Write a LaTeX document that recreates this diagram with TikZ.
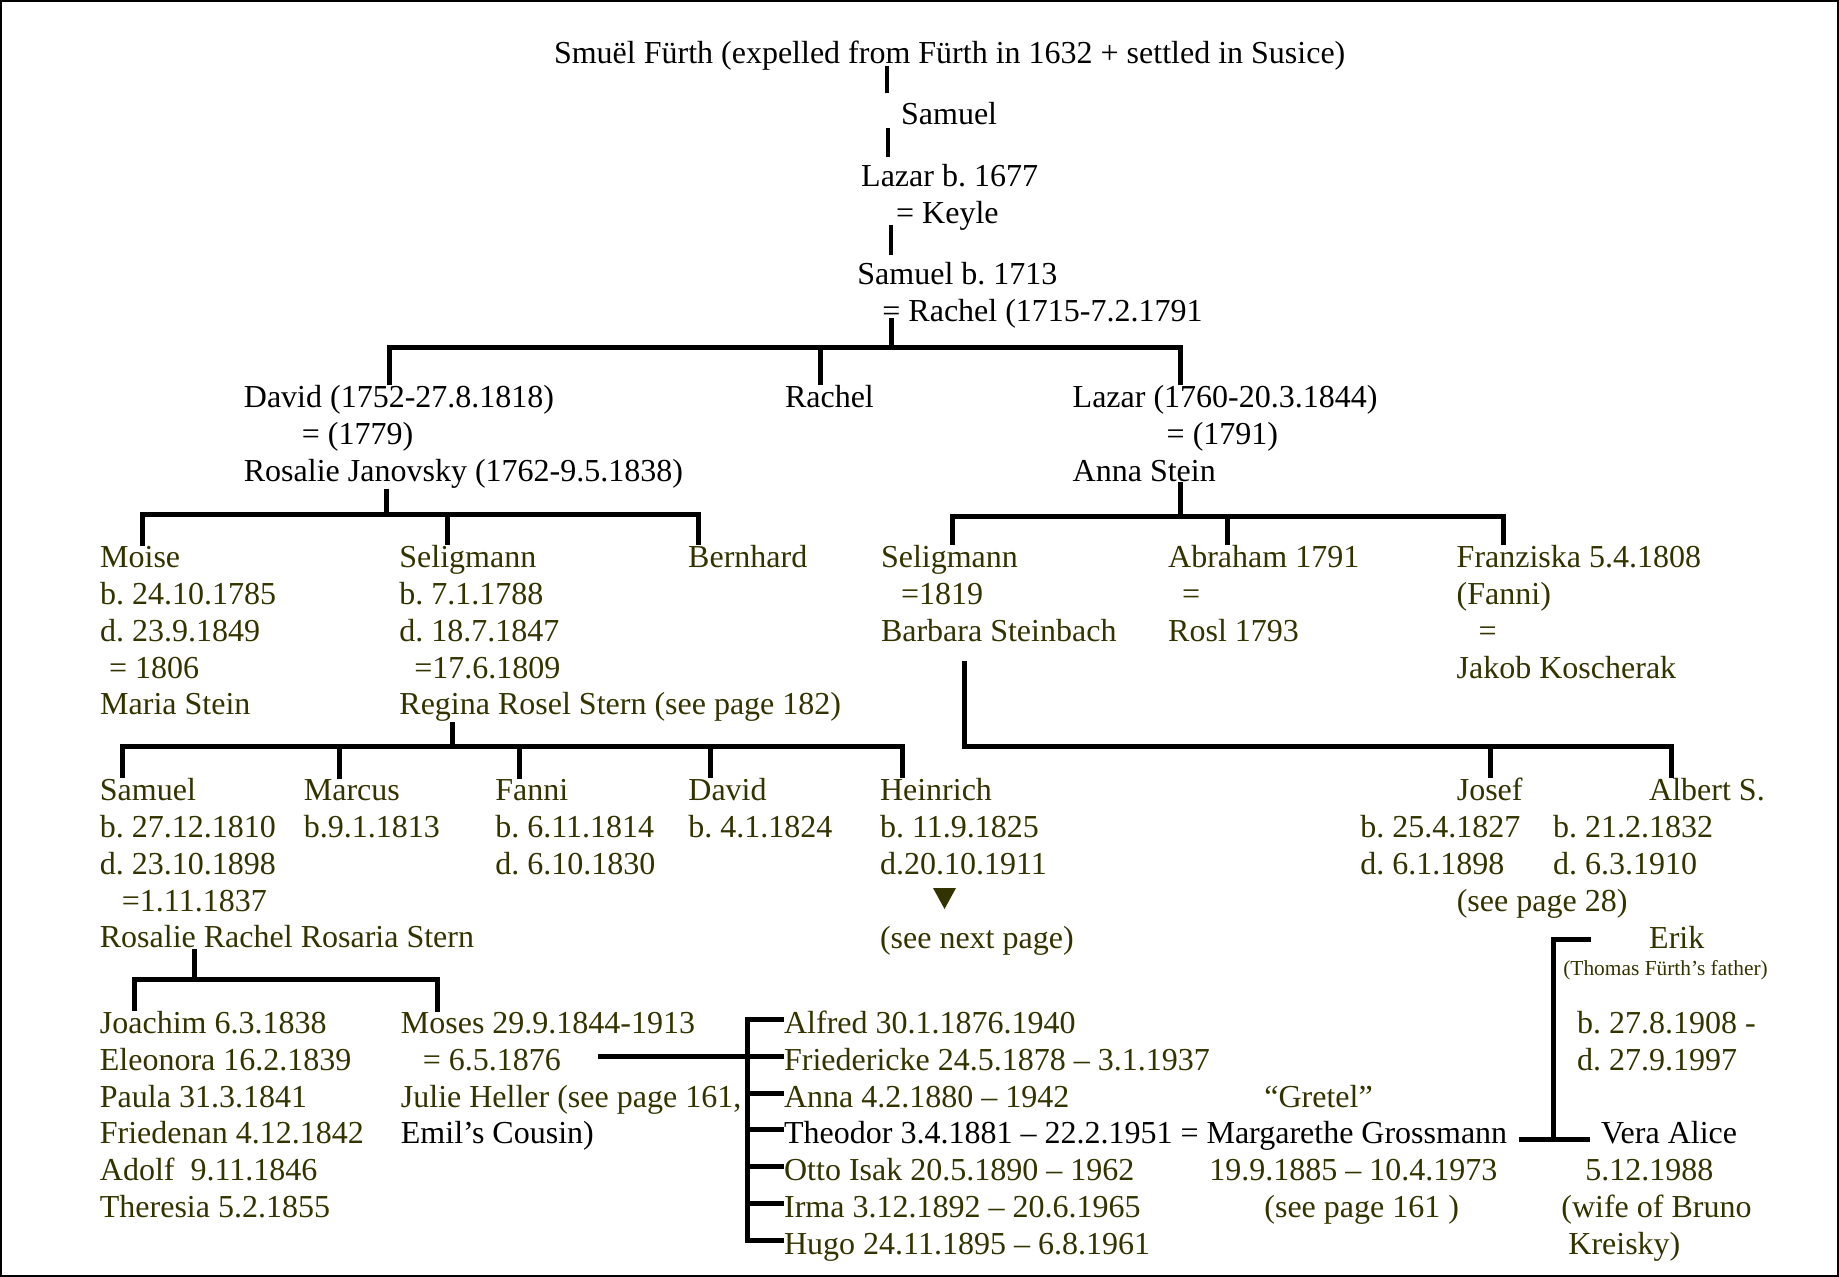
\documentclass[tikz,border=0pt]{standalone}
\usepackage{fontspec}
\setmainfont{Liberation Serif}
\definecolor{olivetext}{RGB}{51,51,0}
\tikzset{every node/.style={inner sep=0pt, anchor=base west, align=left, font=\fontsize{16pt}{18.4pt}\selectfont}}
\tikzset{
  elder/.style={text=black},
  young/.style={text=olivetext},
  kid/.style={young, text height=14pt, text depth=0pt},
  tree/.style={line width=2.5pt},
  stem/.style={line width=2pt},
}

\begin{document}
\frenchspacing
\begin{tikzpicture}[x=0.5pt,y=-0.5pt]
			\useasboundingbox (0,0) rectangle (1839,1277);
			\draw[line width=1pt] (1,1.5) rectangle (1837.5,1275.5);
			
			% Oldest generations (multi-line nodes sit on their last line)
			\node[elder] (smuel) at (553.6,64) {Smuël Fürth (expelled from Fürth in 1632 + settled in Susice)};
			\node[elder] (samuel1) at (900.7,125) {Samuel};
			\node[elder] (lazar1) at (860.8,223.8) {Lazar b. 1677\\\hspace*{17.5pt}= Keyle};
			\node[elder] (samuel2) at (857,321.8) {Samuel b. 1713\\\hspace*{12.5pt}= Rachel (1715-7.2.1791};
			
			\draw[stem] ([shift={(-14,-9)}]samuel1.north west) -- ++(0,-27);
			\draw[stem] ([shift={(27,-7)}]lazar1.north west) -- ++(0,-29);
			\draw[stem] ([shift={(34,-7)}]samuel2.north west) -- ++(0,-30);
			\draw[tree] ([shift={(34,56)}]samuel2.north west) -- ++(0,29);
			
			% Children of Samuel and Rachel
			\node[elder] (david) at (243.5,481.6) {David (1752-27.8.1818)\\\hspace*{29pt}= (1779)\\Rosalie Janovsky (1762-9.5.1838)};
			\node[elder] (rachel) at (784.6,408) {Rachel};
			\node[elder] (lazar2) at (1072.3,481.6) {Lazar (1760-20.3.1844)\\\hspace*{47pt}= (1791)\\Anna Stein};
			
			\draw[tree] ([xshift=72.75pt]david.north west) -- ++(0,-38) -| ([xshift=53.85pt]lazar2.north west);
			\draw[tree] ([xshift=17.7pt]rachel.north west) -- ++(0,-38);
			
			% Children of David
			\node[young] (moise) at (99.8,714.9) {Moise\\b. 24.10.1785\\d. 23.9.1849\\\hspace*{4.5pt}= 1806\\Maria Stein};
			\node[young] (selig1) at (399,714.9) {Seligmann\\b. 7.1.1788\\d. 18.7.1847\\\hspace*{7.5pt}=17.6.1809\\Regina Rosel Stern (see page 182)};
			\node[young] (bernhard) at (687.8,567.7) {Bernhard};
			
			\draw[tree] ([xshift=71.25pt]david.south west) -- ++(0,25.4);
			\draw[tree] ([xshift=21.1pt]moise.north west) -- ++(0,-32) -| ([xshift=5.1pt]bernhard.north west);
			\draw[tree] ([xshift=24pt]selig1.north west) -- ++(0,-32);
			
			% Children of Lazar
			\node[young] (selig2) at (880.6,641.3) {Seligmann\\\hspace*{10pt}=1819\\Barbara Steinbach};
			\node[young] (abraham) at (1167.8,641.3) {Abraham 1791\\\hspace*{7pt}=\\Rosl 1793};
			\node[young] (franziska) at (1456.3,678.1) {Franziska 5.4.1808\\(Fanni)\\\hspace*{11pt}=\\Jakob Koscherak};
			
			\draw[tree] ([xshift=53.85pt]lazar2.south west) -- ++(0,35.4);
			\draw[tree] ([xshift=35.7pt]selig2.north west) -- ++(0,-29) -| ([xshift=23.35pt]franziska.north west);
			\draw[tree] ([xshift=29.6pt]abraham.north west) -- ++(0,-29);
			
			% Children of Seligmann and Regina
			\node[young] (samuel3) at (99.5,947.9) {Samuel\\b. 27.12.1810\\d. 23.10.1898\\\hspace*{11pt}=1.11.1837\\Rosalie Rachel Rosaria Stern};
			\node[young] (marcus) at (303.5,837.5) {Marcus\\b.9.1.1813};
			\node[young] (fanni) at (495,874.3) {Fanni\\b. 6.11.1814\\d. 6.10.1830};
			\node[young] (david2) at (688,837.5) {David\\b. 4.1.1824};
			\node[young] (heinrich) at (879.6,874.3) {Heinrich\\b. 11.9.1825\\d.20.10.1911};
			\node[young] (seenext) at (879.6,948) {(see next page)};
			\fill[olivetext] (933,888) -- (956,888) -- (944.5,909) -- cycle;
			
			\draw[tree] ([xshift=26.85pt]selig1.south west) -- ++(0,25);
			\draw[tree] ([xshift=11.25pt]samuel3.north west) -- ++(0,-32) -| ([xshift=11.2pt]heinrich.north west);
			\draw[tree] ([xshift=17.75pt]marcus.north west) -- ++(0,-32);
			\draw[tree] ([xshift=12pt]fanni.north west) -- ++(0,-32);
			\draw[tree] ([xshift=11pt]david2.north west) -- ++(0,-32);
			
			% Children of Seligmann and Barbara
			\node[young] (josef) at (1456.4,800.7) {Josef};
			\node[young] (josefd) at (1360,874.3) {b. 25.4.1827\\d. 6.1.1898};
			\node[young] (albert) at (1648.8,800.7) {Albert S.};
			\node[young] (albertd) at (1552.6,874.3) {b. 21.2.1832\\d. 6.3.1910};
			\node[young] (seep28) at (1456.4,911) {(see page 28)};
			
			\draw[tree] ([xshift=11.1pt]albert.north west) -- ++(0,-32) -| ([shift={(83.4,19)}]selig2.south west);
			\draw[tree] ([xshift=17.1pt]josef.north west) -- ++(0,-32);
			
			% Children of Samuel and Rosalie
			\node[young] (joachim) at (99.5,1217.5) {Joachim 6.3.1838\\Eleonora 16.2.1839\\Paula 31.3.1841\\Friedenan 4.12.1842\\Adolf\ \ 9.11.1846\\Theresia 5.2.1855};
			\node[young] (moses) at (400.5,1143.9) {Moses 29.9.1844-1913\\\hspace*{11pt}= 6.5.1876\\Julie Heller (see page 161,\\\textcolor{black}{Emil’s Cousin)}};
			
			\draw[tree] ([xshift=47.25pt]samuel3.south west) -- ++(0,32);
			\draw[tree] ([xshift=17.25pt]joachim.north west) -- ++(0,-31) -| ([xshift=18.25pt]moses.north west);
			
			% Children of Moses and Julie
			\node[kid] (alfred) at (783.7,1033.5) {Alfred 30.1.1876.1940};
			\node[kid] (friedericke) at (783.7,1070.3) {Friedericke 24.5.1878 – 3.1.1937};
			\node[kid] (anna) at (783.7,1107.1) {Anna 4.2.1880 – 1942};
			\node[kid, elder] (theodor) at (783.7,1143.9) {Theodor 3.4.1881 – 22.2.1951 = Margarethe Grossmann};
			\node[kid] (otto) at (783.7,1180.7) {Otto Isak 20.5.1890 – 1962};
			\node[kid] (irma) at (783.7,1217.5) {Irma 3.12.1892 – 20.6.1965};
			\node[kid] (hugo) at (783.7,1254.3) {Hugo 24.11.1895 – 6.8.1961};
			
			\draw[tree] (alfred.west) -- ++(-36,0) |- (hugo.west);
			\draw[tree] (friedericke.west) -- ++(-186,0);
			\draw[tree] (anna.west) -- ++(-36,0);
			\draw[tree] (theodor.west) -- ++(-36,0);
			\draw[tree] (otto.west) -- ++(-36,0);
			\draw[tree] (irma.west) -- ++(-36,0);
			
			% Margarethe
			\node[young] (gretel) at (1264,1107.1) {“Gretel”};
			\node[young] (gretd) at (1209,1180.7) {19.9.1885 – 10.4.1973};
			\node[young] (seep161) at (1264,1217.5) {(see page 161 )};
			
			% Erik and Vera
			\node[young] (erik) at (1648.8,948) {Erik};
			\node[young, font=\fontsize{10.7pt}{12pt}\selectfont] (erikf) at (1562.9,975) {(Thomas Fürth’s father)};
			\node[young] (erikd) at (1576.6,1070.3) {b. 27.8.1908 -\\d. 27.9.1997};
			\node[elder] (vera) at (1600.7,1143.9) {Vera Alice};
			\node[young] (verad) at (1561,1254.3) {\hspace*{12pt}5.12.1988\\(wife of Bruno\\\hspace*{3.5pt}Kreisky)};
			
			\draw[tree] ([shift={(11,-4)}]theodor.base east) -- ([shift={(-11,-4)}]vera.base west);
			\draw[tree] ([shift={(-58,-9)}]erik.base west) -- ++(-37,0) -- ++(0,201);
		\end{tikzpicture}
\end{document}
